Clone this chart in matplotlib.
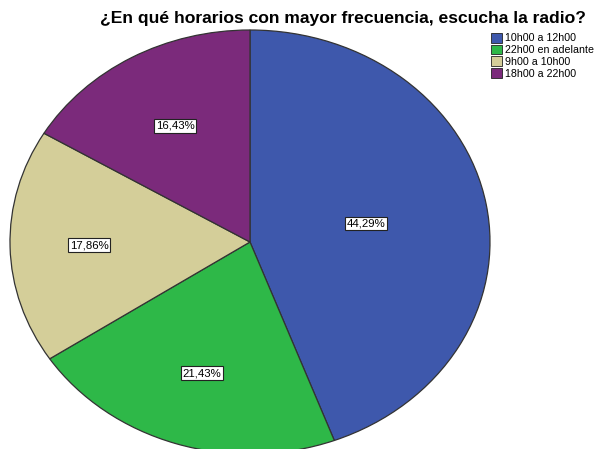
import numpy as np
import matplotlib.pyplot as plt

plt.rcParams['font.family'] = ['Liberation Sans', 'DejaVu Sans']

categories = ["10h00 a 12h00", "22h00 en adelante", "9h00 a 10h00", "18h00 a 22h00"]
values = [44.29, 21.43, 17.86, 16.43]
labels = ["44,29%", "21,43%", "17,86%", "16,43%"]
colors = ["#3E58AC", "#2EB848", "#D4CE99", "#7B2A7B"]
label_dist = [0.49, 0.65, 0.67, 0.63]

W, H = 598, 449
fig = plt.figure(figsize=(W / 100, H / 100), dpi=100)
# elliptical pie: x 10..490, y 30..454 (px from top)
ax = fig.add_axes([10 / W, (H - 454) / H, 480 / W, 424 / H])
wedges, _ = ax.pie(values, colors=colors, startangle=90, counterclock=False,
                   wedgeprops=dict(edgecolor="#333333", linewidth=0.9))
ax.set_aspect("auto")
ax.set_xlim(-1, 1)
ax.set_ylim(-1, 1)

for w, lab, d in zip(wedges, labels, label_dist):
    ang = np.deg2rad((w.theta1 + w.theta2) / 2)
    ax.text(d * np.cos(ang), d * np.sin(ang), lab, ha="center", va="center",
            fontsize=8.2, bbox=dict(boxstyle="square,pad=0.15", fc="white",
                                   ec="#222222", lw=0.8))

fig.text(343 / W, 1 - 18 / H, "¿En qué horarios con mayor frecuencia, escucha la radio?",
         ha="center", va="center", fontsize=12.6, fontweight="bold")

leg = fig.legend(wedges, categories, loc="upper left",
                 bbox_to_anchor=(491 / W, 1 - 33 / H), frameon=False,
                 fontsize=7.7, handlelength=1.0, handleheight=1.0,
                 handletextpad=0.3, labelspacing=0.12, borderaxespad=0,
                 borderpad=0)
for h in leg.legend_handles:
    h.set_edgecolor("#222222")
    h.set_linewidth(0.6)

fig.savefig("out.png", dpi=100)
